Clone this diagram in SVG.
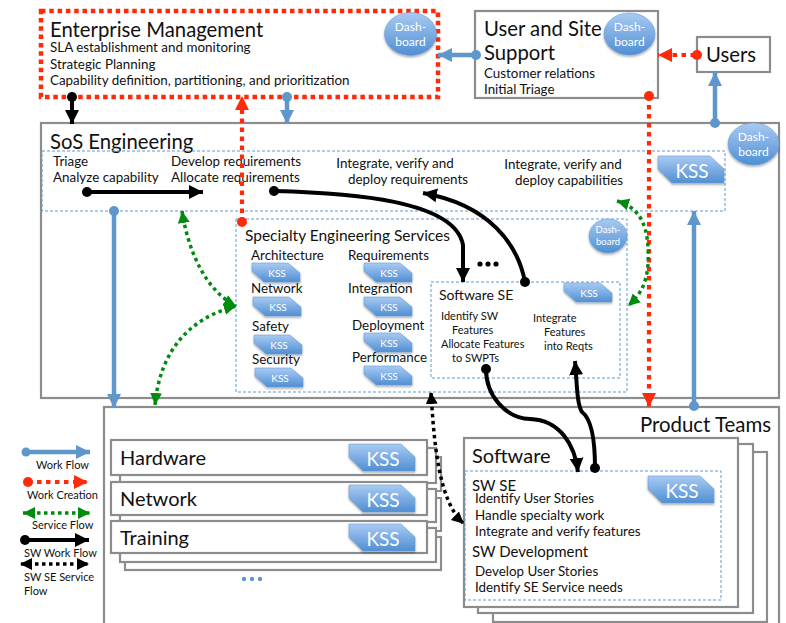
<svg xmlns="http://www.w3.org/2000/svg" width="786" height="623" viewBox="0 0 786 623">
<defs>
<linearGradient id="bg" x1="0" y1="0" x2="0" y2="1"><stop offset="0" stop-color="#a9caf2"/><stop offset="1" stop-color="#4f8fd3"/></linearGradient>
<filter id="sh" x="-20%" y="-20%" width="140%" height="150%"><feDropShadow dx="0" dy="1.5" stdDeviation="1.2" flood-color="#000" flood-opacity="0.35"/></filter>
<marker id="ab" markerUnits="userSpaceOnUse" markerWidth="16" markerHeight="16" refX="14" refY="8" orient="auto-start-reverse"><path d="M0,1 L14,8 L0,15 Z" fill="#000"/></marker>
<marker id="abs" markerUnits="userSpaceOnUse" markerWidth="14" markerHeight="14" refX="11" refY="7" orient="auto-start-reverse"><path d="M0,1 L12,7 L0,13 Z" fill="#000"/></marker>
<marker id="ag" markerUnits="userSpaceOnUse" markerWidth="14" markerHeight="14" refX="12" refY="7" orient="auto-start-reverse"><path d="M0,1 L12,7 L0,13 Z" fill="#008a0e"/></marker>
<marker id="ar" markerUnits="userSpaceOnUse" markerWidth="16" markerHeight="16" refX="14" refY="8" orient="auto-start-reverse"><path d="M0,1 L14,8 L0,15 Z" fill="#ff2a0a"/></marker>
<marker id="al" markerUnits="userSpaceOnUse" markerWidth="16" markerHeight="16" refX="14" refY="8" orient="auto-start-reverse"><path d="M0,1 L14,8 L0,15 Z" fill="#5f97cc"/></marker>
<symbol id="kssL" overflow="visible"><path d="M0,0 H52 L66,13 V27 H14 L0,13 Z" class="k"/><text x="34" y="22" class="kt" font-size="19" text-anchor="middle">KSS</text></symbol>
<symbol id="kssS" overflow="visible"><path d="M0,0 H36 L48,10 V19 H12 L0,8 Z" class="k"/><text x="25" y="14" class="kt" font-size="10" text-anchor="middle">KSS</text></symbol>
</defs>
<style>
text{font-family:"Lato","Open Sans","DejaVu Sans",sans-serif;fill:#111}
.box{fill:#fff;stroke:#8c8c8c;stroke-width:2.2}
.dash{fill:none;stroke:#5b9bd5;stroke-width:1;stroke-dasharray:3 2}
.k{fill:url(#bg);stroke:#6a9ed6;stroke-width:.6;filter:url(#sh)}
.kt{fill:#fff}
.db{fill:url(#bg);stroke:#6a9ed6;stroke-width:.6;filter:url(#sh)}
.dt{fill:#fff;text-anchor:middle}
.t11{font-size:12px}
.t12{font-size:13.4px}
.t18{font-size:20.3px}
.cb{fill:none;stroke:#000;stroke-width:4}
.cbd{fill:none;stroke:#000;stroke-width:3.5;stroke-dasharray:3.5 3.5}
.cg{fill:none;stroke:#008a0e;stroke-width:3.5;stroke-dasharray:3.5 3.5}
.cr{fill:none;stroke:#ff2a0a;stroke-width:4.2;stroke-dasharray:4.5 4.5}
.cl{fill:none;stroke:#5f97cc;stroke-width:4.5}
.edge{fill:none;stroke:#8c8c8c;stroke-width:2.2}
</style>

<g id="sos-engineering">
<rect class="box" x="41" y="123" width="738" height="275"/>
<text x="50" y="149" class="t18">SoS Engineering</text>
<rect class="dash" x="42" y="151" width="683" height="60"/>
<text x="53" y="166" class="t12">Triage</text>
<text x="53" y="182" class="t12">Analyze capability</text>
<text x="171" y="166" class="t12">Develop requirements</text>
<text x="171" y="182" class="t12">Allocate requirements</text>
<text x="395" y="168" class="t12" text-anchor="middle">Integrate, verify and</text>
<text x="408" y="184" class="t12" text-anchor="middle">deploy requirements</text>
<text x="563" y="169" class="t12" text-anchor="middle">Integrate, verify and</text>
<text x="569" y="185" class="t12" text-anchor="middle">deploy capabilities</text>
<use href="#kssL" x="658" y="156"/>
</g>

<g id="enterprise-management">
<rect x="41" y="11" width="397" height="86" fill="#fff" stroke="#ff2a0a" stroke-width="4.5" stroke-dasharray="4.5 3.8"/>
<text x="50" y="37" class="t18">Enterprise Management</text>
<text x="50" y="52" class="t12">SLA establishment and monitoring</text>
<text x="50" y="69" class="t12">Strategic Planning</text>
<text x="50" y="85" class="t12">Capability definition, partitioning, and prioritization</text>
<ellipse class="db" cx="410.5" cy="34" rx="26" ry="21.5"/>
<text x="410.5" y="31" class="t11 dt">Dash-</text><text x="410.5" y="46" class="t11 dt">board</text>
</g>

<g id="user-site-support">
<rect class="box" x="475" y="11" width="183" height="87"/>
<text x="484" y="36" class="t18">User and Site</text>
<text x="484" y="60" class="t18">Support</text>
<text x="484" y="78" class="t12">Customer relations</text>
<text x="484" y="94" class="t12">Initial Triage</text>
<ellipse class="db" cx="629.5" cy="34" rx="25.5" ry="21"/>
<text x="629.5" y="31" class="t11 dt">Dash-</text><text x="629.5" y="46" class="t11 dt">board</text>
</g>

<g id="users">
<rect class="box" x="697" y="37" width="73" height="35"/>
<text x="706" y="62" class="t18">Users</text>
</g>

<g id="sos-dashboard">
<ellipse class="db" cx="753.5" cy="144" rx="25.5" ry="21"/>
<text x="753.5" y="141" class="t11 dt">Dash-</text><text x="753.5" y="156" class="t11 dt">board</text>
</g>

<g id="specialty-engineering">
<rect class="dash" x="236" y="219" width="391" height="173"/>
<text x="245" y="241" font-size="15.5">Specialty Engineering Services</text>
<ellipse class="db" cx="608" cy="236" rx="19" ry="17"/>
<text x="608" y="233" class="dt" font-size="9.5">Dash-</text><text x="608" y="245" class="dt" font-size="9.5">board</text>
<g font-size="13.4">
<text x="251" y="260">Architecture</text><text x="251" y="293">Network</text><text x="252" y="331">Safety</text><text x="252" y="364">Security</text>
<text x="348" y="260">Requirements</text><text x="348" y="293">Integration</text><text x="352" y="330">Deployment</text><text x="352" y="362">Performance</text>
</g>
<use href="#kssS" x="252" y="263"/><use href="#kssS" x="253" y="297"/><use href="#kssS" x="254" y="335"/><use href="#kssS" x="255" y="368"/>
<use href="#kssS" x="364" y="263"/><use href="#kssS" x="364" y="297"/><use href="#kssS" x="364" y="333"/><use href="#kssS" x="364" y="366"/>
<g id="more-services"><circle cx="480" cy="264" r="2.6"/><circle cx="488" cy="264" r="2.6"/><circle cx="496" cy="264" r="2.6"/></g>
</g>

<g id="software-se">
<rect class="dash" x="431" y="282" width="189" height="96"/>
<text x="439" y="300" font-size="14">Software SE</text>
<use href="#kssS" x="564" y="283"/>
<g font-size="11">
<text x="441" y="320">Identify SW</text><text x="452" y="334">Features</text><text x="441" y="348">Allocate Features</text><text x="452" y="362">to SWPTs</text>
<text x="533" y="322">Integrate</text><text x="544" y="336">Features</text><text x="544" y="350">into Reqts</text>
</g>
</g>

<g id="product-teams">
<rect class="box" x="104" y="407" width="675" height="230"/>
<text x="771" y="432" font-size="20.4" text-anchor="end">Product Teams</text>
</g>

<g id="hardware">
<path class="edge" d="M427,457 H441 V491 H427"/>
<rect class="box" x="120" y="448" width="316" height="35"/>
<rect class="box" x="111" y="440" width="316" height="35"/><text x="120" y="465" font-size="20">Hardware</text><use href="#kssL" x="349" y="444"/></g>
<g id="network">
<path class="edge" d="M427,498 H441 V531 H427"/>
<rect class="box" x="120" y="489" width="316" height="33"/>
<rect class="box" x="111" y="482" width="316" height="33"/><text x="120" y="506" font-size="20">Network</text><use href="#kssL" x="349" y="485"/></g>
<g id="training">
<rect class="box" x="125" y="537" width="316" height="33"/>
<rect class="box" x="120" y="528" width="316" height="34"/>
<rect class="box" x="111" y="521" width="316" height="32"/><text x="120" y="545" font-size="20">Training</text><use href="#kssL" x="349" y="524"/></g>
<g id="more-teams" fill="#5f97cc"><circle cx="244" cy="579" r="2.2"/><circle cx="252" cy="579" r="2.2"/><circle cx="260" cy="579" r="2.2"/></g>

<g id="software">
<rect class="box" x="493" y="452" width="274" height="170"/>
<rect class="box" x="478" y="444" width="275" height="169"/>
<rect class="box" x="464" y="438" width="274" height="169"/>
<text x="472" y="463" font-size="20">Software</text>
<rect class="dash" x="465" y="471" width="256" height="129"/>
<text x="472" y="491" font-size="15">SW SE</text>
<text x="475" y="503" class="t12">Identify User Stories</text>
<text x="475" y="520" class="t12">Handle specialty work</text>
<text x="475" y="536" class="t12">Integrate and verify features</text>
<text x="472" y="557" font-size="15">SW Development</text>
<text x="475" y="576" class="t12">Develop User Stories</text>
<text x="475" y="592" class="t12">Identify SE Service needs</text>
<use href="#kssL" x="648" y="476"/>
</g>

<g id="connectors">
<path class="cb" d="M72,97 V124" marker-end="url(#ab)"/><circle cx="72" cy="97" r="5"/>
<path class="cl" d="M287,97 V124" marker-end="url(#al)"/><circle cx="287" cy="97" r="5" fill="#5f97cc"/>
<path class="cl" d="M476,55 H438" marker-end="url(#al)"/><circle cx="476" cy="55" r="5" fill="#5f97cc"/>
<path class="cr" d="M695,55 H658" marker-end="url(#ar)"/><circle cx="697" cy="55" r="5" fill="#ff2a0a"/>
<path class="cl" d="M715,123 V72" marker-end="url(#al)"/><circle cx="715" cy="123" r="5" fill="#5f97cc"/>
<path class="cr" d="M242,222 V96" marker-end="url(#ar)"/><circle cx="242" cy="222" r="5" fill="#ff2a0a"/>
<path class="cr" d="M649,96 V407" marker-end="url(#ar)"/><circle cx="649" cy="96" r="5" fill="#ff2a0a"/>
<path class="cl" d="M694,406 V211" marker-end="url(#al)"/><circle cx="694" cy="406" r="5" fill="#5f97cc"/>
<path class="cl" d="M114,211 V408" marker-end="url(#al)"/><circle cx="114" cy="211" r="5" fill="#5f97cc"/>
<path class="cb" d="M87,192 H203" marker-end="url(#ab)"/><circle cx="87" cy="192" r="5"/>
<path class="cb" d="M274,191 C350,193 455,200 463,245 V282" marker-end="url(#ab)"/><circle cx="274" cy="191" r="5"/>
<path class="cb" d="M525,282 C518,245 490,205 423,193" marker-end="url(#ab)"/><circle cx="525" cy="282" r="5"/>
<path class="cb" d="M486,369 C486,395 505,418 530,419 C560,420 575,445 578,472" marker-end="url(#ab)"/><circle cx="486" cy="369" r="5"/>
<path class="cb" d="M595,468 C595,445 593,420 582,412 C577,405 577,385 575,361" marker-end="url(#ab)"/><circle cx="595" cy="468" r="5"/>
<path class="cg" d="M182,211 C188,250 205,290 236,306" marker-start="url(#ag)" marker-end="url(#ag)"/>
<path class="cg" d="M155,405 C160,350 190,318 236,306" marker-end="url(#ag)" marker-start="url(#ag)"/>
<path class="cg" d="M617,201 C640,208 650,225 648,265 C646,285 640,295 628,306" marker-start="url(#ag)" marker-end="url(#ag)"/>
<path class="cbd" d="M431,393 C434,440 438,500 463,523" marker-start="url(#abs)" marker-end="url(#abs)"/>
</g>

<g id="legend">
<path class="cl" d="M26,452 H90" marker-end="url(#al)"/><circle cx="26" cy="452" r="4.5" fill="#5f97cc"/>
<text x="36" y="469" font-size="11">Work Flow</text>
<path class="cr" d="M28,482 H88" marker-end="url(#ar)"/><circle cx="28" cy="482" r="5" fill="#ff2a0a"/>
<text x="27" y="499" font-size="11">Work Creation</text>
<path class="cg" d="M23,513 H90" marker-start="url(#ag)" marker-end="url(#ag)"/>
<text x="32" y="529" font-size="11">Service Flow</text>
<path class="cb" d="M25,540 H89" marker-end="url(#ab)"/><circle cx="25" cy="540" r="5"/>
<text x="24" y="557" font-size="11">SW Work Flow</text>
<path class="cbd" d="M21,564 H88" marker-start="url(#abs)" marker-end="url(#abs)"/>
<text x="24" y="581" font-size="11">SW SE Service</text>
<text x="24" y="595" font-size="11">Flow</text>
</g>
</svg>
